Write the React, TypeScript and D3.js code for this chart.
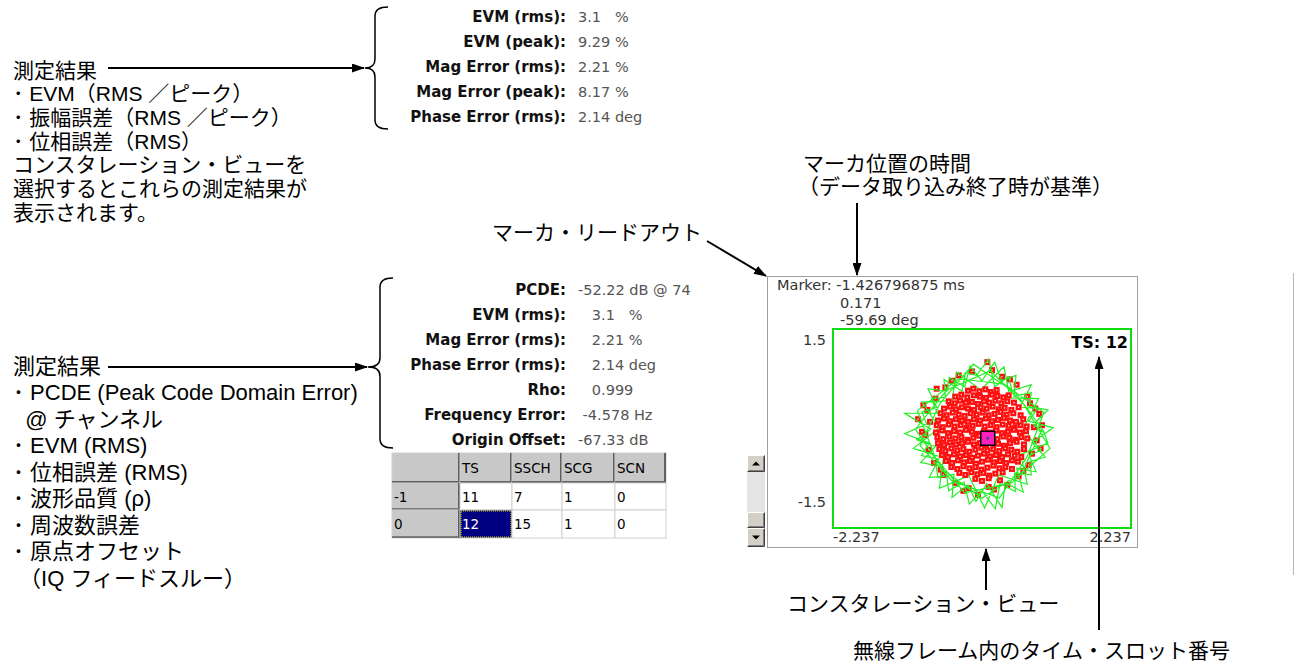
import * as d3 from 'd3';
import React from 'react';

// 上段の測定結果（EVM / 振幅誤差 / 位相誤差）
const topLabels = ['EVM (rms):', 'EVM (peak):', 'Mag Error (rms):', 'Mag Error (peak):', 'Phase Error (rms):'];
const topValues = ['3.1   %', '9.29 %', '2.21 %', '8.17 %', '2.14 deg'];

// 下段の測定結果（PCDE ほか）
const pcdeLabels = ['PCDE:', 'EVM (rms):', 'Mag Error (rms):', 'Phase Error (rms):', 'Rho:', 'Frequency Error:', 'Origin Offset:'];
const pcdeValues = ['-52.22 dB @ 74', '   3.1   %', '   2.21 %', '   2.14 deg', '   0.999', ' -4.578 Hz', '-67.33 dB'];

// タイムスロット表
const tableHeader = ['', 'TS', 'SSCH', 'SCG', 'SCN'];
const tableRows = [
  ['-1', '11', '7', '1', '0'],
  ['0', '12', '15', '1', '0'],
];

// 説明文
const topNotes = [
  '測定結果',
  '･ EVM（RMS ／ピーク）',
  '･ 振幅誤差（RMS ／ピーク）',
  '･ 位相誤差（RMS）',
  'コンスタレーション・ビューを',
  '選択するとこれらの測定結果が',
  '表示されます。',
];
const bottomNotes = [
  '測定結果',
  '･ PCDE (Peak Code Domain Error)',
  '  @ チャンネル',
  '･ EVM (RMS)',
  '･ 位相誤差 (RMS)',
  '･ 波形品質 (ρ)',
  '･ 周波数誤差',
  '･ 原点オフセット',
  ' （IQ フィードスルー）',
];

// マーカ・リードアウト
const markerTime = '-1.426796875 ms';
const markerMag = 0.171;
const markerPhaseDeg = -59.69;
const timeSlot = 12;
const iRange = 2.237;
const qRange = 1.5;

// シンボル点 (I, Q)
const coreSymbols: [number, number][] = [
  [-0.21, 0.57], [-0.13, 0.6], [-0.04, 0.56], [0.05, 0.59], [0.13, 0.55], [0.22, 0.58],
  [-0.4, 0.48], [-0.31, 0.51], [-0.22, 0.47], [-0.12, 0.5], [-0.03, 0.48], [0.06, 0.46], [0.15, 0.51], [0.23, 0.49], [0.32, 0.47], [0.4, 0.5],
  [-0.5, 0.41], [-0.41, 0.38], [-0.33, 0.42], [-0.24, 0.39], [-0.15, 0.4], [-0.06, 0.37], [0.03, 0.41], [0.11, 0.39], [0.2, 0.42], [0.29, 0.38], [0.38, 0.41], [0.48, 0.39],
  [-0.57, 0.3], [-0.48, 0.33], [-0.39, 0.29], [-0.3, 0.32], [-0.21, 0.3], [-0.12, 0.28], [-0.02, 0.32], [0.07, 0.3], [0.16, 0.33], [0.25, 0.29], [0.34, 0.31], [0.44, 0.28], [0.55, 0.32],
  [-0.62, 0.23], [-0.53, 0.2], [-0.44, 0.24], [-0.35, 0.21], [-0.26, 0.19], [-0.17, 0.23], [-0.08, 0.21], [0.01, 0.24], [0.1, 0.2], [0.19, 0.22], [0.28, 0.25], [0.37, 0.21], [0.47, 0.23], [0.58, 0.2],
  [-0.66, 0.12], [-0.57, 0.15], [-0.48, 0.11], [-0.39, 0.14], [-0.3, 0.12], [-0.21, 0.1], [-0.12, 0.14], [-0.03, 0.12], [0.06, 0.15], [0.15, 0.11], [0.24, 0.13], [0.33, 0.16], [0.42, 0.12], [0.51, 0.1], [0.62, 0.14],
  [-0.68, 0.05], [-0.59, 0.02], [-0.5, 0.06], [-0.41, 0.03], [-0.32, 0.05], [-0.23, 0.01], [-0.14, 0.04], [-0.05, 0.07], [0.04, 0.03], [0.13, 0.05], [0.22, 0.02], [0.31, 0.06], [0.4, 0.04], [0.49, 0.01], [0.58, 0.05], [0.67, 0.03],
  [-0.69, -0.06], [-0.6, -0.03], [-0.51, -0.07], [-0.42, -0.04], [-0.33, -0.06], [-0.24, -0.02], [-0.15, -0.05], [-0.06, -0.08], [0.03, -0.04], [0.12, -0.06], [0.21, -0.03], [0.3, -0.07], [0.39, -0.05], [0.48, -0.02], [0.57, -0.06], [0.66, -0.04],
  [-0.67, -0.13], [-0.58, -0.16], [-0.49, -0.12], [-0.4, -0.15], [-0.31, -0.13], [-0.22, -0.17], [-0.13, -0.14], [-0.04, -0.11], [0.05, -0.15], [0.14, -0.13], [0.23, -0.16], [0.32, -0.12], [0.41, -0.14], [0.5, -0.17], [0.59, -0.13], [0.68, -0.15],
  [-0.66, -0.22], [-0.57, -0.25], [-0.48, -0.21], [-0.39, -0.24], [-0.3, -0.22], [-0.21, -0.2], [-0.12, -0.24], [-0.03, -0.22], [0.06, -0.25], [0.15, -0.21], [0.24, -0.23], [0.33, -0.26], [0.42, -0.22], [0.52, -0.2], [0.63, -0.24],
  [-0.64, -0.31], [-0.55, -0.34], [-0.46, -0.3], [-0.37, -0.33], [-0.28, -0.31], [-0.19, -0.35], [-0.1, -0.32], [-0.01, -0.29], [0.08, -0.33], [0.17, -0.31], [0.26, -0.34], [0.35, -0.3], [0.44, -0.32], [0.53, -0.35], [0.63, -0.31],
  [-0.6, -0.4], [-0.51, -0.43], [-0.42, -0.39], [-0.33, -0.42], [-0.24, -0.4], [-0.15, -0.44], [-0.06, -0.41], [0.03, -0.38], [0.12, -0.42], [0.21, -0.4], [0.3, -0.43], [0.39, -0.39], [0.49, -0.41], [0.59, -0.43],
  [-0.54, -0.49], [-0.45, -0.52], [-0.36, -0.48], [-0.27, -0.51], [-0.18, -0.49], [-0.09, -0.53], [0.0, -0.5], [0.09, -0.47], [0.18, -0.51], [0.27, -0.49], [0.36, -0.52], [0.45, -0.48], [0.54, -0.5],
  [-0.46, -0.58], [-0.37, -0.61], [-0.28, -0.57], [-0.19, -0.6], [-0.1, -0.58], [-0.01, -0.62], [0.08, -0.59], [0.17, -0.56], [0.26, -0.6], [0.35, -0.58], [0.45, -0.61],
  [-0.34, -0.67], [-0.25, -0.7], [-0.16, -0.66], [-0.07, -0.69], [0.02, -0.67], [0.11, -0.71], [0.2, -0.68], [0.31, -0.66],
  [-0.1, -0.76], [0.0, -0.79], [0.1, -0.75],
];
const outerSymbols: [number, number][] = [
  [0.08, 1.0], [-0.35, 0.8], [0.3, 0.78], [-0.55, 0.62], [0.52, 0.66], [-0.7, 0.45], [0.68, 0.48], [-0.82, 0.28],
  [0.8, 0.3], [-0.96, 0.14], [0.86, 0.22], [-0.78, 0.1], [0.78, 0.02], [-0.85, -0.1], [0.82, -0.18], [-0.8, -0.32],
  [0.75, -0.38], [-0.72, -0.52], [0.7, -0.55], [-0.58, -0.7], [0.55, -0.72], [-0.4, -0.82], [0.38, -0.85], [-0.2, -0.9],
  [0.18, -0.92], [-0.06, -1.0], [0.1, -0.88], [-0.15, 0.86], [0.15, 0.88], [-0.45, 0.72], [0.42, 0.74], [-0.62, -0.62],
  [0.62, -0.64], [-0.9, -0.05], [0.9, 0.05], [-0.68, 0.6], [0.72, 0.38], [-0.28, -0.94], [0.27, -0.78], [-0.88, 0.35],
  [0.88, -0.3],
];

// シンボル間の軌跡 (I, Q)
const trajectory: [number, number][] = [
  [0.95, -0.08], [0.77, 0.06], [0.99, 0.28], [0.71, 0.33], [0.74, 0.54], [0.48, 0.49], [0.51, 0.8], [0.29, 0.72], [0.19, 1.0],
  [0.0, 0.72], [-0.18, 0.94], [-0.26, 0.63], [-0.49, 0.77], [-0.53, 0.56], [-0.81, 0.6], [-0.68, 0.32], [-0.9, 0.25], [-0.83, 0.07],
  [-1.16, -0.08], [-0.79, -0.22], [-0.91, -0.41], [-0.65, -0.46], [-0.79, -0.74], [-0.53, -0.71], [-0.5, -0.94], [-0.27, -0.81], [-0.19, -1.14],
  [0.0, -0.94], [0.2, -1.21], [0.27, -0.83], [0.5, -0.95], [0.49, -0.67], [0.74, -0.7], [0.72, -0.5], [0.95, -0.43], [0.75, -0.21],
  [1.07, 0.01], [0.7, 0.11], [0.84, 0.31], [0.57, 0.32], [0.74, 0.66], [0.45, 0.57], [0.4, 0.78], [0.19, 0.63], [0.1, 1.05],
  [-0.08, 0.8], [-0.25, 0.84], [-0.3, 0.56], [-0.57, 0.74], [-0.55, 0.47], [-0.76, 0.45], [-0.67, 0.23], [-1.16, 0.23], [-0.77, -0.01],
  [-0.98, -0.17], [-0.7, -0.27], [-0.92, -0.51], [-0.69, -0.56], [-0.66, -0.74], [-0.42, -0.69], [-0.45, -1.04], [-0.21, -0.85], [-0.09, -1.1],
  [0.07, -0.83], [0.3, -1.19], [0.35, -0.82], [0.62, -0.96], [0.52, -0.6], [0.81, -0.65], [0.71, -0.41], [0.89, -0.32], [0.71, -0.14],
  [0.65, 0.06], [0.85, 0.45], [0.42, 0.46], [0.33, 0.93], [-0.02, 0.58], [-0.38, 0.85], [-0.45, 0.42], [-0.9, 0.4], [-0.64, 0.01],
  [-1.03, -0.3], [-0.58, -0.44], [-0.64, -0.9], [-0.2, -0.71], [0.04, -1.2], [0.25, -0.7], [0.68, -0.84], [0.58, -0.39], [0.99, -0.22],
  [0.92, -0.03], [0.51, 0.53], [-0.13, 0.97], [-0.63, 0.38], [-0.93, -0.26], [-0.45, -0.79], [0.26, -1.05], [0.67, -0.44],
  [0.93, 0.24], [0.33, 0.67], [-0.35, 0.75], [-0.97, 0.27], [-0.7, -0.44], [-0.26, -0.97], [0.44, -0.82], [1.02, -0.3],
  [0.63, 0.36], [0.13, 0.87], [-0.53, 0.58], [-1.0, -0.01], [-0.58, -0.63], [0.0, -1.05], [0.61, -0.65], [0.9, -0.02],
];

const JP = "'Liberation Sans', 'Noto Sans CJK JP', sans-serif";
const UI = "'DejaVu Sans', sans-serif";
const keepSpaces = (t: string) => t.replace(/ /g, '\u00a0');

// 中括弧のパス
const brace = (tipX: number, tipY: number, lineX: number, endX: number, top: number, bottom: number) => {
  const r = 9;
  return `M${endX},${top} Q${lineX},${top} ${lineX},${top + r} L${lineX},${tipY - r} Q${lineX},${tipY} ${tipX},${tipY} ` +
    `Q${lineX},${tipY} ${lineX},${tipY + r} L${lineX},${bottom - r} Q${lineX},${bottom} ${endX},${bottom}`;
};

const Button3D = ({ x, y, w, h, arrow }: { x: number; y: number; w: number; h: number; arrow?: 'up' | 'down' }) => {
  const cx = x + w / 2;
  const cy = y + h / 2;
  return (
    <g>
      <rect x={x} y={y} width={w} height={h} fill="#d4d0c8" />
      <path d={`M${x + 0.5},${y + h - 0.5} V${y + 0.5} H${x + w - 0.5}`} stroke="#fff" fill="none" />
      <path d={`M${x + 0.5},${y + h - 0.5} H${x + w - 0.5} V${y + 0.5}`} stroke="#404040" fill="none" />
      <path d={`M${x + 1.5},${y + h - 1.5} H${x + w - 1.5} V${y + 1.5}`} stroke="#808080" fill="none" />
      {arrow === 'up' && <path d={`M${cx - 4},${cy + 2} L${cx + 4},${cy + 2} L${cx},${cy - 2} Z`} fill="#000" />}
      {arrow === 'down' && <path d={`M${cx - 4},${cy - 2} L${cx + 4},${cy - 2} L${cx},${cy + 2} Z`} fill="#000" />}
    </g>
  );
};

export default function App() {
  // コンスタレーションのスケール
  const x = d3.scaleLinear().domain([-iRange, iRange]).range([833, 1131]);
  const y = d3.scaleLinear().domain([-qRange, qRange]).range([528, 329]);
  const line = d3.line<[number, number]>().x((d) => x(d[0])).y((d) => y(d[1]));
  const rad = (markerPhaseDeg * Math.PI) / 180;
  const mk: [number, number] = [markerMag * Math.cos(rad), markerMag * Math.sin(rad)];

  // 表のレイアウト
  const colEdges = [392, 460, 512, 562, 615, 666];
  const rowEdges = [453, 483, 510, 538];

  const arrow = (x1: number, y1: number, x2: number, y2: number) => (
    <line x1={x1} y1={y1} x2={x2} y2={y2} stroke="#000" strokeWidth={2} markerEnd="url(#ah)" />
  );

  const symbolMarks = (pts: [number, number][]) =>
    pts.map((d, i) => (
      <g key={i}>
        <rect x={x(d[0]) - 3} y={y(d[1]) - 3} width={6} height={6} fill="#ff1010" />
        <rect x={x(d[0]) - 0.6} y={y(d[1]) - 0.6} width={1.2} height={1.2} fill="#fff" />
      </g>
    ));

  return (
    <svg width={1300} height={671} style={{ position: 'absolute', left: 0, top: 0, background: '#fff' }}>
      <defs>
        <marker id="ah" viewBox="0 0 13 9" refX={12} refY={4.5} markerWidth={13} markerHeight={9} markerUnits="userSpaceOnUse" orient="auto">
          <path d="M0,0 L13,4.5 L0,9 Z" fill="#000" />
        </marker>
      </defs>

      {/* 左側の説明文 */}
      <g fontFamily={JP} fill="#000">
        {topNotes.map((t, i) => (
          <text key={t} x={13} y={70 + i * 23.7} fontSize={21} dominantBaseline="central">{keepSpaces(t)}</text>
        ))}
        {bottomNotes.map((t, i) => (
          <text key={t} x={13} y={366 + i * 26.5} fontSize={22} dominantBaseline="central">{keepSpaces(t)}</text>
        ))}
      </g>
      {arrow(108, 68, 364, 68)}
      {arrow(108, 367, 367, 367)}

      {/* 中括弧 */}
      <path d={brace(365, 68, 375, 388, 7, 129)} fill="none" stroke="#000" strokeWidth={1.5} />
      <path d={brace(368, 367, 380, 393, 278, 448)} fill="none" stroke="#000" strokeWidth={1.5} />

      {/* 測定結果の値 */}
      <g fontFamily={UI} fontSize={14.5}>
        {topLabels.map((t, i) => (
          <text key={t} x={566} y={17 + i * 25} textAnchor="end" dominantBaseline="central" fontWeight="bold" fontSize={15} fill="#111">{t}</text>
        ))}
        {topValues.map((t, i) => (
          <text key={t} x={578} y={17 + i * 25} dominantBaseline="central" fill="#555">{keepSpaces(t)}</text>
        ))}
        {pcdeLabels.map((t, i) => (
          <text key={t} x={566} y={290 + i * 25} textAnchor="end" dominantBaseline="central" fontWeight="bold" fontSize={15} fill="#111">{t}</text>
        ))}
        {pcdeValues.map((t, i) => (
          <text key={i} x={578} y={290 + i * 25} dominantBaseline="central" fill="#555">{keepSpaces(t)}</text>
        ))}
      </g>

      {/* タイムスロット表 */}
      <g fontFamily={UI} fontSize={13.5}>
        {[tableHeader, ...tableRows].map((row, r) =>
          row.map((cell, c) => {
            const x0 = colEdges[c];
            const x1 = colEdges[c + 1];
            const y0 = rowEdges[r];
            const y1 = rowEdges[r + 1];
            const gray = r === 0 || c === 0;
            const sel = r === 2 && c === 1;
            return (
              <g key={`${r}-${c}`}>
                <rect x={x0} y={y0} width={x1 - x0} height={y1 - y0} fill={sel ? '#000080' : gray ? '#c8c8c8' : '#fff'} stroke="#d0d0d0" />
                {sel && <rect x={x0 + 1} y={y0 + 1} width={x1 - x0 - 2} height={y1 - y0 - 2} fill="none" stroke="#e8e000" strokeDasharray="1,1" />}
                {gray && <line x1={x1 - 1} y1={y0} x2={x1 - 1} y2={y1} stroke="#606060" strokeWidth={2} />}
                {gray && <line x1={x0} y1={y1 - 1} x2={x1} y2={y1 - 1} stroke="#606060" strokeWidth={r === 0 ? 2 : 1.5} />}
                <text x={x0 + 2} y={(y0 + y1) / 2} dominantBaseline="central" fill={sel ? '#fff' : '#000'}>{cell}</text>
              </g>
            );
          })
        )}
      </g>

      {/* コンスタレーション・ビュー */}
      <rect x={767.5} y={276.5} width={370} height={271} fill="#fff" stroke="#a0a0a0" />
      <g fontFamily={UI} fontSize={14.5} fill="#333">
        <text x={777} y={285} dominantBaseline="central">{`Marker: ${markerTime}`}</text>
        <text x={840} y={303} dominantBaseline="central">{markerMag.toFixed(3)}</text>
        <text x={840} y={320} dominantBaseline="central">{`${markerPhaseDeg.toFixed(2)} deg`}</text>
        <text x={x(-iRange) - 7} y={y(qRange) + 11} textAnchor="end" dominantBaseline="central">{qRange.toFixed(1)}</text>
        <text x={x(-iRange) - 7} y={y(-qRange) - 26} textAnchor="end" dominantBaseline="central">{(-qRange).toFixed(1)}</text>
        <text x={x(-iRange)} y={y(-qRange) + 9} dominantBaseline="central">{(-iRange).toFixed(3)}</text>
        <text x={x(iRange)} y={y(-qRange) + 9} textAnchor="end" dominantBaseline="central">{iRange.toFixed(3)}</text>
      </g>
      <g>{symbolMarks(outerSymbols)}</g>
      <path d={line(trajectory) ?? ''} fill="none" stroke="#22f022" strokeWidth={1.2} />
      <g>{symbolMarks(coreSymbols)}</g>
      <rect x={x(mk[0]) - 7} y={y(mk[1]) - 7} width={14} height={14} fill="#ff20c0" stroke="#000" strokeWidth={1.5} />
      <circle cx={x(mk[0])} cy={y(mk[1])} r={1.8} fill="#6040a0" />
      <rect x={x(-iRange)} y={y(qRange)} width={x(iRange) - x(-iRange)} height={y(-qRange) - y(qRange)} fill="none" stroke="#10dd10" strokeWidth={2} />
      <text x={x(iRange) - 3} y={y(qRange) + 13} textAnchor="end" dominantBaseline="central" fontFamily={UI} fontSize={16} fontWeight="bold" fill="#000">{`TS: ${timeSlot}`}</text>

      {/* スクロールバー */}
      <Button3D x={747} y={455} w={18} h={17} arrow="up" />
      <rect x={747} y={472} width={18} height={40} fill="#e4e4e4" />
      <Button3D x={747} y={512} w={18} h={16} />
      <Button3D x={747} y={528} w={18} h={19} arrow="down" />

      {/* 右側の注記 */}
      <g fontFamily={JP} fontSize={21} fill="#000">
        <text x={803} y={163} dominantBaseline="central">マーカ位置の時間</text>
        <text x={798} y={186} dominantBaseline="central">（データ取り込み終了時が基準）</text>
        <text x={702} y={232} textAnchor="end" dominantBaseline="central">マーカ・リードアウト</text>
        <text x={787} y={603} dominantBaseline="central">コンスタレーション・ビュー</text>
        <text x={853} y={650} dominantBaseline="central">無線フレーム内のタイム・スロット番号</text>
      </g>
      {arrow(857, 203, 857, 275)}
      {arrow(707, 241, 766, 276)}
      {arrow(986, 590, 986, 549)}
      {arrow(1099, 630, 1099, 357)}

      <line x1={1293.5} y1={273} x2={1293.5} y2={575} stroke="#b8b8b8" />
    </svg>
  );
}
